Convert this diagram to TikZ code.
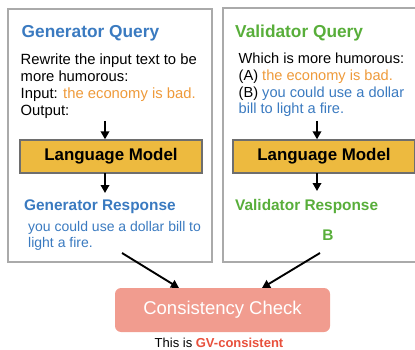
\documentclass[tikz,border=0pt]{standalone}
\usepackage{fontspec}
\setmainfont{Liberation Sans}
\usetikzlibrary{arrows.meta}
\definecolor{gblue}{RGB}{58,122,192}
\definecolor{gorange}{RGB}{238,154,58}
\definecolor{ggreen}{RGB}{88,174,58}
\definecolor{ggold}{RGB}{237,186,63}
\definecolor{gbord}{RGB}{110,110,110}
\definecolor{gpanel}{RGB}{170,170,170}
\definecolor{gsalmon}{RGB}{241,156,143}
\definecolor{gred}{RGB}{232,80,60}
\tikzset{
  panel/.style={draw=gpanel, line width=2.2pt},
  title/.style={anchor=base west, inner sep=0, font=\fontsize{17.3}{20}\selectfont\bfseries},
  resp/.style={anchor=base west, inner sep=0, font=\fontsize{15.4}{18}\selectfont\bfseries},
  body/.style={anchor=north west, inner sep=0, align=left},
  lmbox/.style={draw=gbord, line width=1.4pt, fill=ggold, inner sep=0,
    font=\fontsize{16.9}{20}\selectfont\bfseries},
  arr/.style={line width=1.9pt, -{Triangle[length=8pt,width=8.5pt]}},
}
\begin{document}
\begin{tikzpicture}[x=1pt,y=-1pt]
\useasboundingbox (0,0) rectangle (415,350);
\clip (0,0) rectangle (415,350);
% panels
\draw[panel] (8,9) rectangle (212,262);
\draw[panel] (223,8) rectangle (430,262);
% generator side
\node[title, text=gblue] (gq) at (21.5,37.3) {Generator Query};
\node[body, font=\fontsize{14.8}{17}\selectfont] (gtext) at (20.5,53.8)
  {Rewrite the input text to be\\more humorous:\\Input: \textcolor{gorange}{the economy is bad.}\\Output:};
\node[lmbox, minimum width=182pt, minimum height=33pt] (lm1) at (111,156.5) {Language Model};
\node[resp, text=gblue] (gr) at (24,210) {Generator Response};
\node[body, text=gblue, font=\fontsize{14}{15.6}\selectfont] (gresp) at (28,221.6)
  {you could use a dollar bill to\\light a fire.};
% validator side
\node[title, text=ggreen] (vq) at (235,37.3) {Validator Query};
\node[body, font=\fontsize{14.6}{16.7}\selectfont] (vtext) at (238.5,53)
  {Which is more humorous:\\(A) \textcolor{gorange}{the economy is bad.}\\(B) \textcolor{gblue}{you could use a dollar}\\\textcolor{gblue}{bill to light a fire.}};
\node[lmbox, minimum width=182pt, minimum height=33pt] (lm2) at (324,156.5) {Language Model};
\node[resp, text=ggreen] (vr) at (235,210) {Validator Response};
\node[anchor=base, inner sep=0, text=ggreen, font=\fontsize{15.4}{18}\selectfont\bfseries] (vresp) at (328,240) {B};
% consistency
\node[fill=gsalmon, rounded corners=6pt, minimum width=215pt, minimum height=44pt,
  inner sep=0, text=white, font=\fontsize{18.5}{22}\selectfont] (cc) at (222.5,310) {Consistency Check};
\node[anchor=base, inner sep=0, font=\fontsize{13}{15}\selectfont] (gv) at (219,347)
  {This is \textcolor{gred}{\bfseries GV-consistent}};
% arrows
\coordinate (a1) at (105,121);
\coordinate (a2) at (105,173);
\coordinate (b2) at (105,193);
\coordinate (a3) at (317,121);
\coordinate (a4) at (317,173);
\coordinate (b4) at (317,191);
\draw[arr] (a1) -- (a1 |- lm1.north);
\draw[arr] (a2) -- (b2);
\draw[arr] (a3) -- (a3 |- lm2.north);
\draw[arr] (a4) -- (b4);
\coordinate (s1) at (122,253);
\coordinate (e1) at (179,288);
\coordinate (s2) at (320,253);
\coordinate (e2) at (262,288);
\draw[arr] (s1) -- (e1);
\draw[arr] (s2) -- (e2);
\end{tikzpicture}
\end{document}
